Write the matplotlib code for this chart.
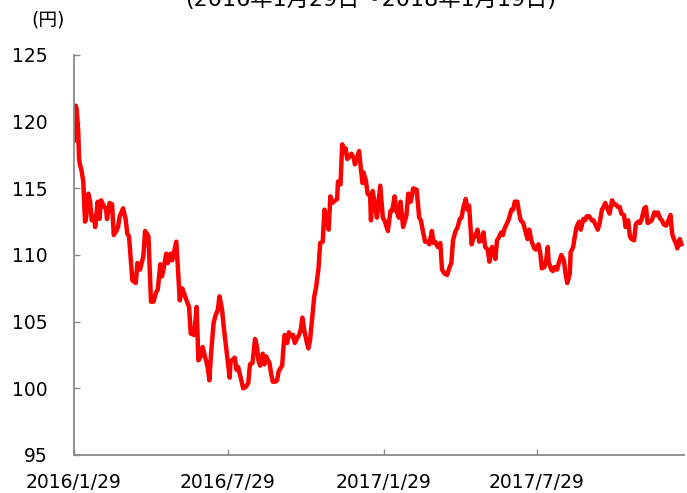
import pandas as pd
import matplotlib
matplotlib.use("Agg")
import matplotlib.pyplot as plt

plt.rcParams['font.family'] = ['DejaVu Sans', 'Noto Sans CJK JP']

# USD/JPY. day_offset = days after start_date
start_date = "2016-01-29"
end_date = "2018-01-19"

day_offset = [
    0, 2, 3, 5, 6, 7, 9, 11, 13, 14, 17, 19, 21, 24, 25, 28, 30, 32, 35, 38,
    39, 42, 45, 47, 50, 52, 54, 58, 61, 63, 65, 69, 73, 75, 78, 82, 84, 88, 91, 94,
    97, 99, 102, 104, 106, 109, 111, 114, 116, 121, 125, 128, 133, 136, 138, 142, 145, 147, 150, 152,
    154, 158, 160, 162, 165, 167, 170, 172, 175, 177, 181,
    184, 185, 190, 192, 194, 197, 200, 203, 206, 208, 211, 214, 216, 218, 220, 223, 225, 227, 231, 233,
    235, 238, 240, 242, 246, 248, 249, 252, 254, 257, 259, 261, 264, 266, 268, 270, 272, 275, 277, 279,
    282, 284, 286, 289, 291, 294, 296, 298, 301, 303, 305, 309, 311, 312, 315, 317, 320, 321, 323, 326,
    328, 331, 332, 335, 337, 339, 341, 342, 345, 347, 350, 351, 353, 356, 358,
    362, 365, 367, 371, 374, 376, 379, 381, 384, 386, 389, 393, 395, 398, 401, 405, 408, 410, 413, 415,
    418, 420, 423, 425, 427, 430, 433, 435, 438, 441, 444, 446, 448, 451, 453, 456, 458, 460, 463, 465,
    467, 470, 472, 474, 477, 479, 482, 484, 486, 489, 491, 494, 496, 498, 500, 502, 505, 507, 509, 512,
    514, 517, 519, 521, 524, 526, 528, 531, 533, 536, 538,
    541, 544, 546, 549, 551, 553, 556, 558, 560, 561, 564, 566, 568, 571, 573, 576, 579, 581, 583, 586,
    587, 590, 592, 594, 597, 599, 602, 604, 606, 609, 612, 614, 617, 619, 621, 624, 626, 628, 631, 633,
    636, 638, 640, 643, 645, 647, 650, 652, 655, 657, 659, 662, 664, 667, 669, 671, 674, 676, 678, 681,
    683, 686, 688, 690, 693, 695, 697, 700, 702, 705, 707, 709, 712, 713, 716, 718,
]

usd_jpy = [
    118.6, 121.2, 121.0, 119.3, 117.2, 116.8, 116.3, 115.5, 112.5, 112.6, 114.6, 114.0, 112.6, 112.9, 112.1, 114.0, 112.7, 114.1, 113.7, 113.4,
    112.7, 113.9, 113.8, 111.5, 111.8, 112.1, 112.9, 113.5, 112.7, 111.6, 111.4, 108.1, 107.9, 109.4, 108.9, 109.9, 111.8, 111.4, 106.5, 106.5,
    107.2, 107.4, 109.3, 108.4, 109.0, 110.1, 109.4, 110.1, 109.6, 111.0, 106.6, 107.5, 106.6, 106.1, 104.1, 104.0, 106.1, 102.1, 102.4, 103.1,
    102.6, 101.6, 100.6, 102.6, 104.9, 105.4, 105.9, 106.9, 105.9, 104.6, 102.4,
    100.8, 102.0, 102.3, 101.4, 101.6, 100.8, 100.0, 100.1, 100.4, 101.8, 101.9, 103.7, 103.2, 102.1, 101.7, 102.6, 101.8, 102.4, 101.9, 101.1,
    100.5, 100.5, 100.6, 101.3, 101.7, 103.4, 104.0, 103.4, 104.2, 103.9, 104.0, 103.4, 103.8, 104.0, 104.4, 105.3, 104.4, 103.5, 103.0, 103.6,
    105.6, 106.9, 107.5, 109.0, 110.9, 111.0, 113.4, 112.9, 111.9, 114.4, 113.9, 114.1, 114.2, 115.5, 115.3, 118.3, 117.7, 118.0, 117.2, 117.4,
    117.6, 117.2, 116.8, 117.4, 117.8, 116.5, 115.4, 116.2, 115.6, 114.6, 114.4, 112.6, 114.8, 113.7, 112.8,
    115.2, 112.8, 112.6, 111.8, 113.3, 113.3, 114.4, 113.3, 112.8, 114.0, 112.1, 113.0, 114.6, 114.0, 115.0, 114.9, 112.8, 112.6, 111.6, 111.0,
    111.0, 110.8, 111.8, 110.9, 111.0, 110.6, 110.9, 108.9, 108.6, 108.5, 109.1, 109.4, 111.1, 111.8, 112.0, 112.7, 112.8, 113.5, 114.2, 113.4,
    113.7, 110.8, 111.3, 111.4, 111.9, 111.0, 111.1, 111.7, 110.6, 110.4, 109.5, 110.6, 110.4, 109.7, 111.1, 111.3, 111.7, 111.5, 112.0, 112.4,
    112.7, 113.4, 113.4, 114.0, 114.0, 113.2, 112.6, 112.4, 111.9, 111.2, 111.9,
    111.0, 110.5, 110.4, 110.8, 110.2, 109.0, 109.1, 109.6, 110.6, 109.5, 108.9, 108.8, 109.1, 108.9, 109.4, 110.0, 109.6, 108.6, 107.9, 108.6,
    110.2, 110.6, 111.4, 112.1, 112.5, 111.9, 112.7, 112.6, 112.9, 112.9, 112.6, 112.6, 112.2, 111.9, 112.3, 113.4, 113.6, 113.9, 113.4, 113.1,
    114.1, 113.8, 113.8, 113.6, 113.6, 113.1, 113.0, 112.1, 112.6, 111.4, 111.2, 111.1, 112.3, 112.5, 112.4, 112.7, 113.5, 113.6, 112.4, 112.5,
    112.6, 113.2, 113.0, 113.2, 112.7, 112.6, 112.3, 112.2, 112.5, 113.0, 111.6, 111.2, 110.8, 110.5, 111.2, 110.8,
]

tick_dates = ["2016-01-29", "2016-07-29", "2017-01-29", "2017-07-29"]
tick_labels = ["2016/1/29", "2016/7/29", "2017/1/29", "2017/7/29"]
y_ticks = [95, 100, 105, 110, 115, 120, 125]

title = "(2016年1月29日～2018年1月19日)"
unit = "(円)"

axis_grey = "#898989"

dates = pd.Timestamp(start_date) + pd.to_timedelta(day_offset, unit="D")

fig = plt.figure(figsize=(6.87, 4.93), dpi=100)
ax = fig.add_axes([74 / 687, 38 / 493, 610 / 687, 400 / 493])

ax.plot(dates, usd_jpy, color="#ff0000", lw=3.2, solid_joinstyle="round")

ax.set_xlim(pd.Timestamp(start_date), pd.Timestamp(end_date))
ax.set_ylim(y_ticks[0], y_ticks[-1])
ax.set_yticks(y_ticks)
ax.set_xticks(pd.to_datetime(tick_dates))
ax.set_xticklabels(tick_labels)

for side in ("top", "right"):
    ax.spines[side].set_visible(False)
for side in ("left", "bottom"):
    ax.spines[side].set_color(axis_grey)
    ax.spines[side].set_linewidth(1.3)

ax.tick_params(axis="y", direction="in", length=4.5, width=1, color=axis_grey,
               labelsize=13.5, pad=19)
ax.tick_params(axis="x", direction="in", length=4, width=1, color=axis_grey,
               labelsize=13.5, pad=13)

fig.text(31 / 687, 1 - 20 / 493, unit, fontsize=13.5, va="center", ha="left")
fig.text(371 / 687, 1 - 6 / 493, title, fontsize=16, va="baseline", ha="center")

fig.savefig("out.png", dpi=100)
